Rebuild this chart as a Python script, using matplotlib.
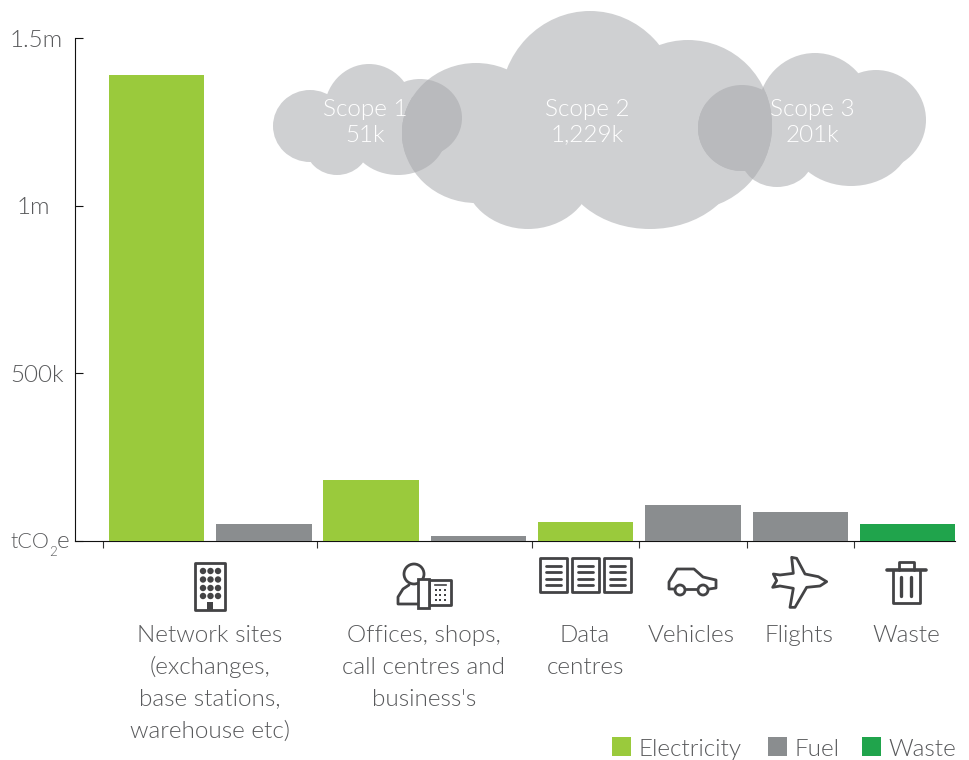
import matplotlib
matplotlib.use("Agg")
import matplotlib.pyplot as plt
from matplotlib.patches import Ellipse, Rectangle, Circle, Polygon
from matplotlib.transforms import blended_transform_factory

plt.rcParams['font.family'] = ['Lato', 'DejaVu Sans']
plt.rcParams['font.weight'] = 300

# tCO2e per bar
bar_values = [1390000, 51000, 182000, 15000, 57000, 107000, 86000, 51000]
bar_kinds = ["Electricity", "Fuel", "Electricity", "Fuel", "Electricity", "Fuel", "Fuel", "Waste"]
kind_names = ["Electricity", "Fuel", "Waste"]
kind_colors = ["#9aca3c", "#8a8d8f", "#20a44c"]

y_ticks = [500000, 1000000, 1500000]
y_labels = ["500k", "1m", "1.5m"]
y_label_x = [10, 17, 10]
group_edges = [-0.5, 1.5, 3.5, 4.5, 5.5, 6.5]

categories = ["Network sites\n(exchanges,\nbase stations,\nwarehouse etc)",
              "Offices, shops,\ncall centres and\nbusiness's",
              "Data\ncentres", "Vehicles", "Flights", "Waste"]
category_x = [210, 424, 585, 691, 799, 906]

scope_names = ["Scope 1", "Scope 2", "Scope 3"]
scope_values = ["51k", "1,229k", "201k"]
scope_x = [365, 587, 812]

TEXT = "#58595b"
ICON = "#434345"
CLOUD = "#cfd0d2"
CLOUD_DARK = "#b9babd"
FS = 17.5

fig = plt.figure(figsize=(9.7, 7.6), dpi=100)
ax = fig.add_axes([75.5 / 970, (760 - 541) / 760, 880 / 970, 503 / 760])
px = fig.add_axes([0, 0, 1, 1], zorder=3)
px.set_xlim(0, 970)
px.set_ylim(760, 0)
px.axis("off")

# bars
colors = [kind_colors[kind_names.index(k)] for k in bar_kinds]
ax.bar(range(len(bar_values)), bar_values, width=0.89, color=colors, zorder=3)
ax.set_xlim(-0.755, 7.446)
ax.set_ylim(0, 1500000)
for s in ["top", "right"]:
    ax.spines[s].set_visible(False)
for s in ["left", "bottom"]:
    ax.spines[s].set_linewidth(0.8)
    ax.spines[s].set_color("#111111")
ax.set_xticks(group_edges, labels=[])
ax.tick_params(axis="x", length=5, width=0.8, color="#333333")
ax.set_yticks([0] + y_ticks, labels=[])
ax.tick_params(axis="y", direction="in", length=6, width=0.8, color="#111111")

# y labels sit at odd x positions in the original, so place them by hand
trans = blended_transform_factory(px.transData, ax.transData)
for val, lab, x in zip(y_ticks, y_labels, y_label_x):
    ax.annotate(lab, xy=(x, val), xycoords=trans, xytext=(0, -1.5), textcoords="offset points",
                ha="left", va="center", color=TEXT, fontsize=FS, annotation_clip=False)
# the unit is split up: mathtext puts the subscript too far right
px.text(10, 542, "tCO", ha="left", va="center", color=TEXT, fontsize=15.5)
px.text(49.5, 552, "2", ha="left", va="center", color=TEXT, fontsize=9.5)
px.text(57, 542, "e", ha="left", va="center", color=TEXT, fontsize=FS)

# category labels
for name, x in zip(categories, category_x):
    for i, line in enumerate(name.split("\n")):
        px.text(x, 635 + i * 32, line, ha="center", va="center", color=TEXT, fontsize=FS)

# clouds, each one a group of ellipses (cx, cy, rx, ry)
cloud1 = [(310, 126, 37, 36), (369, 112, 45, 48), (337, 145, 32, 30), (420, 118, 42, 39), (398, 135, 48, 40)]
cloud2 = [(476, 133, 74, 70), (590, 105, 90, 94), (688, 125, 84, 85), (528, 172, 65, 57), (650, 158, 90, 71)]
cloud3 = [(742, 128, 44, 43), (815, 111, 57, 58), (876, 120, 50, 50), (777, 157, 36, 30), (851, 138, 60, 48)]


def ell(e, **kw):
    return Ellipse((e[0], e[1]), e[2] * 2, e[3] * 2, linewidth=0, **kw)


for cloud in [cloud1, cloud2, cloud3]:
    for e in cloud:
        px.add_patch(ell(e, facecolor=CLOUD, zorder=1))

# overlaps get the darker grey
for a, b in [(cloud1, cloud2), (cloud3, cloud2)]:
    for ea in a:
        for eb in b:
            clip = ell(eb, facecolor="none", zorder=0)
            px.add_patch(clip)
            dark = ell(ea, facecolor=CLOUD_DARK, zorder=2)
            px.add_patch(dark)
            dark.set_clip_path(clip)

for name, val, x in zip(scope_names, scope_values, scope_x):
    px.text(x, 110, name, ha="center", va="center", color="white", fontsize=FS, zorder=5)
    px.text(x, 135, val, ha="center", va="center", color="white", fontsize=FS, zorder=5)

# icons
lw = 2.0
line = dict(color=ICON, linewidth=lw, solid_capstyle="round")
box = dict(facecolor="none", edgecolor=ICON, linewidth=lw, joinstyle="round")
# building
px.add_patch(Rectangle((195.5, 563), 30, 47, **box))
for x in [203, 210.5, 218]:
    for y in [571, 579.5, 588, 596]:
        px.add_patch(Circle((x, y), 3.2, facecolor=ICON, linewidth=0))
px.add_patch(Rectangle((207.5, 602), 6, 8, facecolor=ICON, linewidth=0))
# person with phone
px.add_patch(Circle((414, 574), 10, **box))
px.plot([418, 398, 398, 403, 409], [604, 604, 597, 589, 585], **line)
px.add_patch(Rectangle((429, 580), 22.5, 25, **box))
px.add_patch(Rectangle((418.5, 579), 10.5, 29, facecolor="white", edgecolor=ICON, linewidth=lw, zorder=2))
px.plot([435, 446], [585, 585], color=ICON, linewidth=1.2)
for x in [436, 440.5, 445]:
    for y in [590, 595, 600]:
        px.add_patch(Rectangle((x - 1, y - 1), 2, 2, facecolor=ICON, linewidth=0))
# data centre racks
for x0 in [540, 572, 604]:
    px.add_patch(Rectangle((x0, 558), 27, 34, **box))
    for y in [566, 572, 578.5, 585]:
        px.plot([x0 + 6, x0 + 21], [y, y], **line)
# car
px.plot([675, 669, 669, 677, 694, 703, 716, 716, 709], [589, 589, 582, 569, 569, 577, 580, 588, 589], **line)
px.plot([686, 697], [589, 589], **line)
for x in [680, 703]:
    px.add_patch(Circle((x, 590), 5, **box))
# plane
plane_x = [200, 175, 135, 110, 95, 100, 60, 40, 50, 38, 60, 100, 90, 105, 140, 180]
plane_y = [95, 80, 72, 25, 22, 70, 75, 72, 92, 112, 108, 115, 172, 172, 112, 108]
px.add_patch(Polygon([(760 + a / 3, 550 + b / 3) for a, b in zip(plane_x, plane_y)], closed=True, **box))
# bin
px.plot([887, 926], [570, 570], color=ICON, linewidth=2.6, solid_capstyle="round")
px.plot([899, 899, 914, 914], [570, 562, 562, 570], **line)
px.plot([893, 893, 920, 920], [570, 603, 603, 570], **line)
for x in [901, 911]:
    px.plot([x, x], [577, 596], color=ICON, linewidth=2.4, solid_capstyle="round")

# legend
legend_box_x = [612, 768, 862]
legend_text_x = [639, 795, 888]
for name, col, bx, tx in zip(kind_names, kind_colors, legend_box_x, legend_text_x):
    px.add_patch(Rectangle((bx, 737), 19, 19, facecolor=col, linewidth=0))
    px.text(tx, 749, name, ha="left", va="center", color=TEXT, fontsize=FS)

fig.savefig("out.png", dpi=100)
